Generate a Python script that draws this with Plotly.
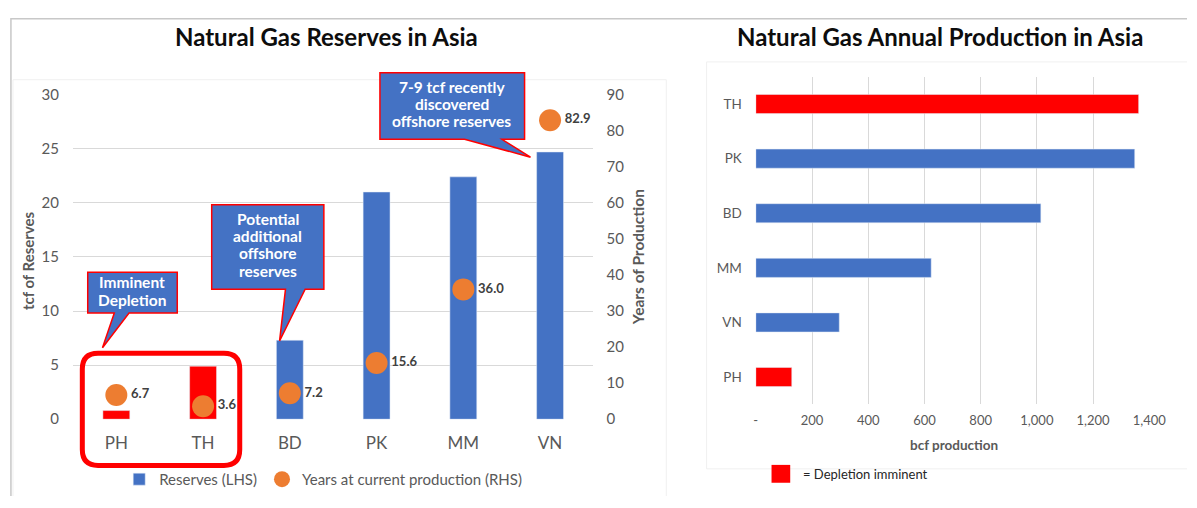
import plotly.graph_objects as go

# --- data ---
countries = ["PH", "TH", "BD", "PK", "MM", "VN"]
reserves_tcf = [0.8, 4.9, 7.3, 21.0, 22.4, 24.7]
years_left = [6.7, 3.6, 7.2, 15.6, 36.0, 82.9]
reserve_colors = ["#FF0000", "#FF0000", "#4472C4", "#4472C4", "#4472C4", "#4472C4"]

prod_countries = ["TH", "PK", "BD", "MM", "VN", "PH"]
prod_bcf = [1362, 1348, 1014, 624, 297, 128]
prod_colors = ["#FF0000", "#4472C4", "#4472C4", "#4472C4", "#4472C4", "#FF0000"]
prod_tickvals = [0, 200, 400, 600, 800, 1000, 1200, 1400]
prod_ticktext = ["-", "200", "400", "600", "800", "1,000", "1,200", "1,400"]

# page placement of the figure as it ends up in the screenshot
FW, FH = 1179, 488
OX, OY, SY = 9, 18.5, 0.962
FONT = "Lato, Open Sans, sans-serif"
GREY = "#595959"
BLUE = "#4472C4"
RED = "#FF0000"
ORANGE = "#ED7D31"


def px(x):
    return (x - OX) / FW


def py(y):
    return 1 - (y / SY - OY) / FH


def path(points):
    return "M" + " L".join(f"{px(x):.5f},{py(y):.5f}" for x, y in points) + " Z"


fig = go.Figure()

# left chart: reserves bars (LHS) + years dots (RHS)
fig.add_trace(go.Bar(x=countries, y=reserves_tcf, marker=dict(color=reserve_colors),
                     width=0.31, showlegend=False, xaxis="x", yaxis="y"))
fig.add_trace(go.Bar(x=[None], y=[None], name="Reserves (LHS)", marker=dict(color=BLUE),
                     xaxis="x", yaxis="y"))
fig.add_trace(go.Scatter(x=countries, y=years_left, mode="markers+text",
                         name="Years at current production (RHS)",
                         marker=dict(color=ORANGE, size=22),
                         text=[f"{v:.1f}" for v in years_left], textposition="middle right",
                         textfont=dict(family=FONT, size=13, color="#404040", weight="bold"),
                         xaxis="x", yaxis="y2"))

# right chart: annual production
fig.add_trace(go.Bar(x=prod_bcf, y=prod_countries, orientation="h", width=0.35,
                     marker=dict(color=prod_colors), showlegend=False,
                     xaxis="x2", yaxis="y3"))

shapes = [
    # outer frame and faint chart boxes
    dict(type="rect", xref="paper", yref="paper", x0=0.0008, x1=1.2, y0=-0.1, y1=0.9985,
         line=dict(color="#C8C8C8", width=1.5), layer="below"),
    dict(type="rect", xref="paper", yref="paper", x0=px(12), x1=px(676), y0=-0.1, y1=py(80),
         line=dict(color="#F0F0F0", width=1), layer="below"),
    dict(type="rect", xref="paper", yref="paper", x0=px(717), x1=1.2, y0=py(472), y1=py(62),
         line=dict(color="#F0F0F0", width=1), layer="below"),
    # callouts
    dict(type="path", xref="paper", yref="paper", fillcolor=BLUE, line=dict(color=RED, width=1.5),
         path=path([(385, 73), (532, 73), (532, 140), (509, 140), (538, 158), (471, 140), (385, 140)])),
    dict(type="path", xref="paper", yref="paper", fillcolor=BLUE, line=dict(color=RED, width=1.5),
         path=path([(214, 206), (328, 206), (328, 291), (309, 291), (283, 343), (289, 291), (214, 291)])),
    dict(type="path", xref="paper", yref="paper", fillcolor=BLUE, line=dict(color=RED, width=1.5),
         path=path([(88, 274), (179, 274), (179, 315), (130, 315), (103, 350), (115, 315), (88, 315)])),
    # right-chart key
    dict(type="rect", xref="paper", yref="paper", x0=px(783), x1=px(802), y0=py(486), y1=py(468),
         fillcolor=RED, line=dict(width=0)),
]

# rounded red frame around PH / TH
x0, x1, y0, y1, r = 82.5, 242.5, 355.5, 468.5, 16
rr = (f"M{px(x0 + r)},{py(y0)} L{px(x1 - r)},{py(y0)} Q{px(x1)},{py(y0)} {px(x1)},{py(y0 + r)} "
      f"L{px(x1)},{py(y1 - r)} Q{px(x1)},{py(y1)} {px(x1 - r)},{py(y1)} "
      f"L{px(x0 + r)},{py(y1)} Q{px(x0)},{py(y1)} {px(x0)},{py(y1 - r)} "
      f"L{px(x0)},{py(y0 + r)} Q{px(x0)},{py(y0)} {px(x0 + r)},{py(y0)} Z")
shapes.append(dict(type="path", xref="paper", yref="paper", path=rr,
                   line=dict(color=RED, width=5), fillcolor="rgba(0,0,0,0)"))


def note(text, x, y, size=15.5, color="white", bold=True, angle=0, xanchor="center"):
    return dict(text=text, x=px(x), y=py(y), xref="paper", yref="paper", showarrow=False,
                xanchor=xanchor, yanchor="middle", textangle=angle,
                font=dict(family=FONT, size=size, color=color, weight="bold" if bold else "normal"))


callout_lines = [
    ("7-9 tcf recently", 458, 87), ("discovered", 458, 104.5), ("offshore reserves", 458, 122),
    ("Potential", 271, 220), ("additional", 271, 237.5), ("offshore", 271, 255),
    ("reserves", 271, 272.5),
    ("Imminent", 133, 283.5), ("Depletion", 133, 301.5),
]

annotations = [note(t, x, y) for t, x, y in callout_lines] + [
    note("Natural Gas Reserves in Asia", 331, 36, size=24, color="#0D0D0D"),
    note("Natural Gas Annual Production in Asia", 954, 36, size=24, color="#0D0D0D"),
    note("tcf of Reserves", 28, 262, size=15, color=GREY, angle=-90),
    note("Years of Production", 648, 259, size=15.5, color=GREY, angle=-90),
    note("bcf production", 968, 448, size=13.5, color=GREY),
    note("= Depletion imminent", 813, 477, size=13, color="#262626", bold=False, xanchor="left"),
]

fig.update_layout(
    width=FW, height=FH, margin=dict(l=0, r=0, t=0, b=0),
    paper_bgcolor="white", plot_bgcolor="white",
    font=dict(family=FONT, color=GREY),
    barmode="overlay",
    shapes=shapes, annotations=annotations,
    legend=dict(orientation="h", x=px(120), y=py(466), xanchor="left", yanchor="top",
                font=dict(family=FONT, size=15, color=GREY), bgcolor="rgba(0,0,0,0)"),
    xaxis=dict(domain=[px(73), px(602)], anchor="y", type="category", range=[-0.5, 5.5],
               showgrid=False, zeroline=False, showline=False, ticks="",
               tickfont=dict(size=17, color=GREY), ticklabelstandoff=12),
    yaxis=dict(domain=[py(422), py(95)], range=[0, 30], dtick=5, gridcolor="#D9D9D9",
               zeroline=False, showline=False, tickfont=dict(size=15, color=GREY),
               ticklabelstandoff=13),
    yaxis2=dict(overlaying="y", side="right", anchor="x", range=[0, 90], dtick=10,
                showgrid=False, zeroline=False, showline=False,
                tickfont=dict(size=15, color=GREY), ticklabelstandoff=12),
    xaxis2=dict(domain=[px(767), px(1167)], anchor="y3", range=[0, 1400],
                tickvals=prod_tickvals, ticktext=prod_ticktext, gridcolor="#D9D9D9",
                zeroline=False, showline=False, tickfont=dict(size=13, color=GREY),
                ticklabelstandoff=7),
    yaxis3=dict(domain=[py(407), py(77)], anchor="x2", type="category",
                autorange="reversed", showgrid=False, zeroline=False, showline=False,
                tickfont=dict(size=13.5, color=GREY), ticklabelstandoff=13),
)

fig.write_html("out.html")
